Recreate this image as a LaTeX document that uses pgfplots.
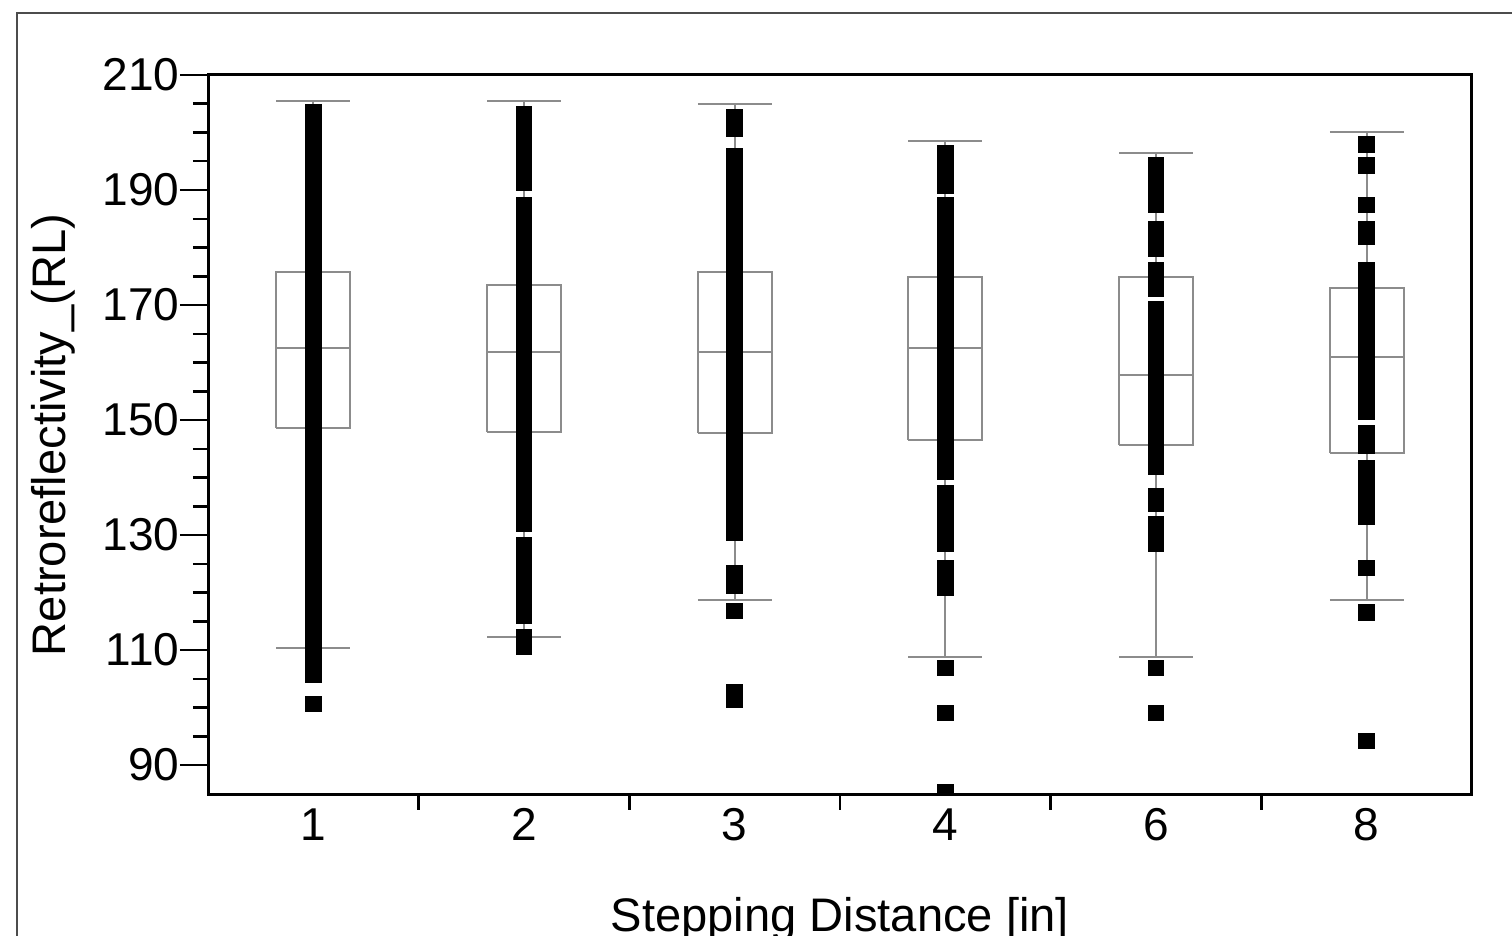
\documentclass[border=0pt]{standalone}
\usepackage{pgfplots}
\pgfplotsset{compat=1.18}
\usepackage{fontspec}
\setmainfont{Liberation Sans}

\begin{document}
\begin{tikzpicture}
\useasboundingbox (0,0) rectangle (151.2mm,93.6mm);
% outer frame (cut off at right and bottom)
\draw[black!70, line width=0.2mm] (1.7mm,0) -- (1.7mm,92.3mm) -- (151.2mm,92.3mm);
\begin{axis}[
    at={(20.8mm,14.1mm)}, anchor=south west,
    scale only axis, width=126.4mm, height=72mm,
    xmin=-0.5, xmax=5.5, ymin=84.8, ymax=210,
    xtick={0,...,5}, xticklabels={1,2,3,4,6,8},
    minor xtick={0.5,1.5,2.5,3.5,4.5},
    ytick={90,110,...,210}, minor y tick num=3,
    tick align=outside, tick pos=left,
    major tick length=2.8mm, minor tick length=1.5mm,
    major x tick style={draw=none},
    tick style={black, line width=0.25mm},
    axis line style={black, line width=0.3mm},
    /pgf/number format/assume math mode=true,
    tick label style={font=\fontsize{13.1}{15}\selectfont, inner sep=0pt},
    xticklabel style={yshift=1.5mm},
    xlabel={Stepping Distance [in]},
    ylabel={Retroreflectivity\_(RL)},
    xlabel style={at={(axis description cs:0.5,-0.189)}, anchor=base, font=\fontsize{13.4}{16}\selectfont},
    ylabel style={at={(axis description cs:-0.122,0.5)}, anchor=center, font=\fontsize{13.4}{16}\selectfont},
    clip marker paths=true,
    unbounded coords=jump,
]

% boxes: quartile box, median, whiskers with caps (box half width 0.175)
\pgfplotsset{boxst/.style={draw=black!45, line width=0.2mm, no marks}}
% 1 in: median 162.5, quartiles 148.6 / 175.8, whiskers 110.3 / 205.4
\addplot[boxst] coordinates {
 (-0.175,148.6) (0.175,148.6) (0.175,175.8) (-0.175,175.8) (-0.175,148.6) (0,nan)
 (-0.175,162.5) (0.175,162.5) (0,nan)
 (0,175.8) (0,205.4) (0,nan) (-0.175,205.4) (0.175,205.4) (0,nan)
 (0,148.6) (0,110.3) (0,nan) (-0.175,110.3) (0.175,110.3)
};
% 2 in: median 161.8, quartiles 148.0 / 173.5, whiskers 112.3 / 205.4
\addplot[boxst] coordinates {
 (0.825,148.0) (1.175,148.0) (1.175,173.5) (0.825,173.5) (0.825,148.0) (1,nan)
 (0.825,161.8) (1.175,161.8) (1,nan)
 (1,173.5) (1,205.4) (1,nan) (0.825,205.4) (1.175,205.4) (1,nan)
 (1,148.0) (1,112.3) (1,nan) (0.825,112.3) (1.175,112.3)
};
% 3 in: median 161.9, quartiles 147.8 / 175.8, whiskers 118.7 / 204.9
\addplot[boxst] coordinates {
 (1.825,147.8) (2.175,147.8) (2.175,175.8) (1.825,175.8) (1.825,147.8) (2,nan)
 (1.825,161.9) (2.175,161.9) (2,nan)
 (2,175.8) (2,204.9) (2,nan) (1.825,204.9) (2.175,204.9) (2,nan)
 (2,147.8) (2,118.7) (2,nan) (1.825,118.7) (2.175,118.7)
};
% 4 in: median 162.5, quartiles 146.5 / 174.9, whiskers 108.8 / 198.5
\addplot[boxst] coordinates {
 (2.825,146.5) (3.175,146.5) (3.175,174.9) (2.825,174.9) (2.825,146.5) (3,nan)
 (2.825,162.5) (3.175,162.5) (3,nan)
 (3,174.9) (3,198.5) (3,nan) (2.825,198.5) (3.175,198.5) (3,nan)
 (3,146.5) (3,108.8) (3,nan) (2.825,108.8) (3.175,108.8)
};
% 6 in: median 157.8, quartiles 145.7 / 174.9, whiskers 108.8 / 196.4
\addplot[boxst] coordinates {
 (3.825,145.7) (4.175,145.7) (4.175,174.9) (3.825,174.9) (3.825,145.7) (4,nan)
 (3.825,157.8) (4.175,157.8) (4,nan)
 (4,174.9) (4,196.4) (4,nan) (3.825,196.4) (4.175,196.4) (4,nan)
 (4,145.7) (4,108.8) (4,nan) (3.825,108.8) (4.175,108.8)
};
% 8 in: median 161.0, quartiles 144.2 / 172.9, whiskers 118.7 / 200.0
\addplot[boxst] coordinates {
 (4.825,144.2) (5.175,144.2) (5.175,172.9) (4.825,172.9) (4.825,144.2) (5,nan)
 (4.825,161.0) (5.175,161.0) (5,nan)
 (5,172.9) (5,200.0) (5,nan) (4.825,200.0) (5.175,200.0) (5,nan)
 (5,144.2) (5,118.7) (5,nan) (4.825,118.7) (5.175,118.7)
};

\pgfplotsset{pts/.style={only marks, mark=square*, mark size=2.2pt, mark options={fill=black, draw=black, line width=0pt}}}

% 1 in
\addplot[pts] coordinates {
 (0,203.5) (0,201.5) (0,199.5) (0,197.5) (0,195.5) (0,193.5) (0,191.5) (0,189.5) (0,187.5) (0,185.5)
 (0,183.5) (0,181.5) (0,179.5) (0,177.5) (0,175.5) (0,173.5) (0,171.5) (0,169.5) (0,167.5) (0,165.5)
 (0,163.5) (0,161.5) (0,159.5) (0,157.5) (0,155.5) (0,153.5) (0,151.5) (0,149.5) (0,147.5) (0,145.5)
 (0,143.5) (0,141.5) (0,139.5) (0,137.5) (0,135.5) (0,133.5) (0,131.5) (0,129.5) (0,127.5) (0,125.5)
 (0,123.5) (0,121.5) (0,119.5) (0,117.5) (0,115.5) (0,113.5) (0,111.5) (0,109.5) (0,107.5) (0,105.7)
 (0,100.6)
};
% 2 in
\addplot[pts] coordinates {
 (1,203.2) (1,201.2) (1,199.2) (1,197.2) (1,195.2) (1,193.2) (1,191.3)
 (1,187.4) (1,185.4) (1,183.4) (1,181.4) (1,179.4) (1,177.4) (1,175.4) (1,173.4) (1,171.4) (1,169.4)
 (1,167.4) (1,165.4) (1,163.4) (1,161.4) (1,159.4) (1,157.4) (1,155.4) (1,153.4) (1,151.4) (1,149.4)
 (1,147.4) (1,145.4) (1,143.4) (1,141.4) (1,139.4) (1,137.4) (1,135.4) (1,133.4) (1,132.0)
 (1,128.3) (1,126.3) (1,124.3) (1,122.3) (1,120.3) (1,118.3) (1,116.0)
 (1,112.3) (1,110.5)
};
% 3 in
\addplot[pts] coordinates {
 (2,202.6) (2,200.6)
 (2,195.9) (2,193.9) (2,191.9) (2,189.9) (2,187.9) (2,185.9) (2,183.9) (2,181.9) (2,179.9) (2,177.9)
 (2,175.9) (2,173.9) (2,171.9) (2,169.9) (2,167.9) (2,165.9) (2,163.9) (2,161.9) (2,159.9) (2,157.9)
 (2,155.9) (2,153.9) (2,151.9) (2,149.9) (2,147.9) (2,145.9) (2,143.9) (2,141.9) (2,139.9) (2,137.9)
 (2,135.9) (2,133.9) (2,131.9) (2,130.4)
 (2,123.4) (2,121.2) (2,116.8) (2,102.6) (2,101.4)
};
% 4 in
\addplot[pts] coordinates {
 (3,196.4) (3,194.4) (3,192.4) (3,190.8)
 (3,187.3) (3,185.3) (3,183.3) (3,181.3) (3,179.3) (3,177.3) (3,175.3) (3,173.3) (3,171.3) (3,169.3)
 (3,167.3) (3,165.3) (3,163.3) (3,161.3) (3,159.3) (3,157.3) (3,155.3) (3,153.3) (3,151.3) (3,149.3)
 (3,147.3) (3,145.3) (3,143.3) (3,141.0)
 (3,137.3) (3,135.3) (3,133.3) (3,131.3) (3,129.3) (3,128.5)
 (3,124.3) (3,122.3) (3,120.8)
 (3,106.9) (3,99.1) (3,85.2)
};
% 6 in
\addplot[pts] coordinates {
 (4,194.3) (4,192.3) (4,190.3) (4,188.3) (4,187.4)
 (4,183.1) (4,181.5) (4,179.8)
 (4,176.1) (4,174.4) (4,172.8)
 (4,169.2) (4,167.2) (4,165.2) (4,163.2) (4,161.2) (4,159.2) (4,157.2) (4,155.2) (4,153.2) (4,151.2)
 (4,149.2) (4,147.2) (4,145.2) (4,143.2) (4,141.8)
 (4,136.7) (4,135.4)
 (4,131.8) (4,130.1) (4,128.5)
 (4,106.9) (4,99.1)
};
% 8 in
\addplot[pts] coordinates {
 (5,197.9) (5,194.3) (5,187.4) (5,183.1) (5,181.8)
 (5,176.1) (5,174.1) (5,172.1) (5,170.1) (5,168.1) (5,166.1) (5,164.1) (5,162.1) (5,160.1) (5,158.1)
 (5,156.1) (5,154.1) (5,152.1) (5,151.4)
 (5,147.7) (5,145.6)
 (5,141.7) (5,139.7) (5,137.7) (5,135.7) (5,133.7) (5,133.1)
 (5,124.3) (5,116.5) (5,94.2)
};
\end{axis}
\end{tikzpicture}
\end{document}
